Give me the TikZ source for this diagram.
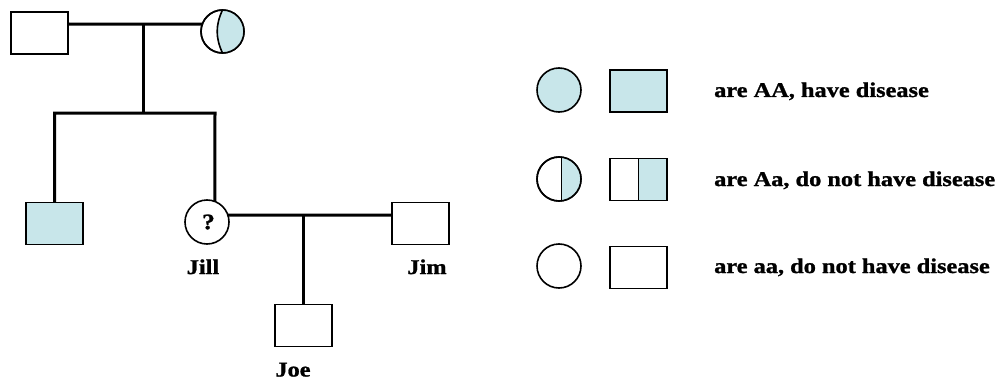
\documentclass[tikz,border=0pt]{standalone}
\usepackage{fontspec}
\newfontfamily\lab{Liberation Serif}[FakeStretch=1.16, FakeBold=1.2]
\definecolor{dis}{RGB}{200,230,234}
\tikzset{
  sq/.style={rectangle, draw, line width=1.8pt, minimum width=57pt, minimum height=42pt, inner sep=0pt, outer sep=0pt},
  ci/.style={circle, draw, line width=1.6pt, minimum size=44pt, inner sep=0pt, outer sep=0pt},
  link/.style={line width=3pt},
  txt/.style={font=\lab\bfseries\fontsize{21}{24}\selectfont, inner sep=0pt},
}
\begin{document}
\begin{tikzpicture}[x=1pt, y=1pt]
\useasboundingbox (0,0) rectangle (998,381);

% first generation
\node[sq] (fa) at (39.5,348) {};
\node[ci, minimum size=43pt] (mo) at (222.5,349.5) {};
\fill[dis] (mo.north) arc[start angle=90, end angle=-90, radius=21.5pt]
  to[out=115, in=-115] (mo.north);
\draw[line width=1.6pt] (mo.south) to[out=115, in=-115] (mo.north);
\draw[line width=1.6pt] (mo.center) circle[radius=21.5pt];
\coordinate (m1) at (143,357);
\draw[link] (fa.east |- m1) -- (mo.160);
\coordinate (s1) at (143,268);
\draw[link] (m1) -- (s1);

% second generation
\node[sq, fill=dis] (son) at (54.5,157.5) {};
\node[ci] (jill) at (207,159) {};
\node[txt, font=\lab\bfseries\fontsize{22}{24}\selectfont] (q) at ([xshift=1.5pt]jill.center) {?};
\node[sq] (jim) at (420.5,157.5) {};
\draw[link, line join=miter] (son.north) -- (son.north |- s1) -- (215,268) -- (jill.69);
\coordinate (m2) at (303,166);
\draw[link] (jill.18.6) -- (m2 -| jim.west);

% third generation
\node[sq] (joe) at (303.5,55.5) {};
\draw[link] (m2) -- (m2 |- joe.north);

% names
\node[txt, anchor=base] (njill) at (203,107) {Jill};
\node[txt, anchor=base] (njim) at (427,107) {Jim};
\node[txt, anchor=base] (njoe) at (293,4.5) {Joe};

% key
\node[ci, fill=dis] (k1c) at (559,291) {};
\node[sq, fill=dis] (k1s) at (638.5,290) {};
\node[txt, anchor=base west] (k1t) at (714,284) {are AA, have disease};

\node[ci] (k2c) at (559,202) {};
\fill[dis] (k2c.84.8) arc[start angle=84.8, end angle=-84.8, radius=22pt] -- cycle;
\draw[line width=1.6pt] (k2c.84.8) -- (k2c.-84.8);
\draw[line width=1.6pt] (k2c.center) circle[radius=22pt];
\node[sq] (k2s) at (638.5,201.5) {};
\fill[dis] (k2s.south) rectangle (k2s.north east);
\draw[line width=1.8pt] (k2s.north) -- (k2s.south);
\draw[line width=1.8pt] (k2s.south west) rectangle (k2s.north east);
\node[txt, anchor=base west] (k2t) at (714,195) {are Aa, do not have disease};

\node[ci] (k3c) at (559,115) {};
\node[sq] (k3s) at (638.5,113.5) {};
\node[txt, anchor=base west] (k3t) at (714,108) {are aa, do not have disease};
\end{tikzpicture}
\end{document}
